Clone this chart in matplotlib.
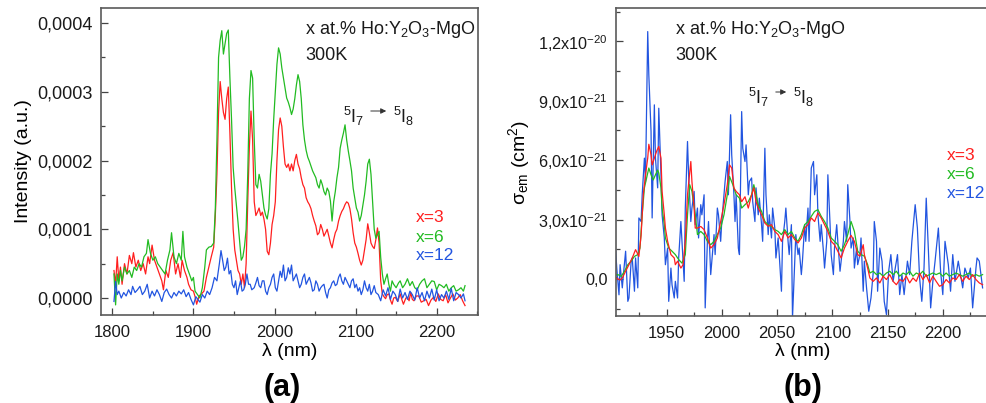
import numpy as np
import matplotlib
matplotlib.use("Agg")
import matplotlib.pyplot as plt
from matplotlib.patches import FancyArrowPatch
from matplotlib.ticker import FuncFormatter, MultipleLocator, FixedLocator

plt.rcParams['font.family'] = ['Liberation Sans', 'DejaVu Sans']
plt.rcParams['mathtext.fontset'] = 'custom'
plt.rcParams['mathtext.rm'] = 'Liberation Sans'
plt.rcParams['mathtext.it'] = 'Liberation Sans:italic'
plt.rcParams['mathtext.bf'] = 'Liberation Sans:bold'

# ---- panel (a): intensity, units of 1e-4 a.u. ----
a_x3 = [
    (1802, 0.40), (1804, 0.20), (1806, 0.60), (1808, 0.25), (1810, 0.45), (1812, 0.20),
    (1815, 0.50), (1818, 0.35), (1821, 0.62), (1824, 0.50), (1826, 0.66), (1829, 0.45),
    (1832, 0.55), (1835, 0.40), (1838, 0.50), (1841, 0.35), (1844, 0.60), (1846, 0.50),
    (1849, 0.77), (1852, 0.55), (1855, 0.45), (1858, 0.35), (1861, 0.25), (1863, 0.12),
    (1866, 0.40), (1869, 0.30), (1872, 0.55), (1875, 0.66), (1878, 0.35), (1881, 0.50),
    (1884, 0.30), (1886, 0.55), (1889, 0.40), (1892, 0.30), (1894, 0.20), (1897, 0.12),
    (1900, 0.10), (1902, 0.02), (1904, -0.09), (1907, 0.03), (1910, 0.06), (1913, 0.10),
    (1916, 0.30), (1919, 0.45), (1922, 0.60), (1925, 0.74), (1927, 1.20), (1929, 1.80),
    (1931, 2.70), (1933, 3.15), (1935, 2.90), (1937, 2.70), (1939, 2.60), (1941, 2.90),
    (1943, 3.07), (1945, 2.40), (1947, 1.60), (1949, 1.00), (1951, 0.70), (1953, 0.55),
    (1955, 0.40), (1957, 0.35), (1959, 0.20), (1961, 0.35), (1963, 0.15), (1965, 0.50),
    (1967, 1.40), (1969, 2.20), (1971, 2.72), (1973, 2.30), (1975, 1.40), (1977, 1.20),
    (1979, 1.25), (1981, 1.31), (1983, 1.20), (1985, 1.25), (1987, 1.15), (1989, 1.00),
    (1991, 0.68), (1993, 0.63), (1995, 0.80), (1997, 1.07), (1999, 1.20), (2001, 1.40),
    (2003, 2.00), (2005, 2.45), (2007, 2.62), (2009, 2.50), (2011, 2.20), (2013, 1.95),
    (2015, 1.90), (2017, 1.95), (2019, 1.85), (2021, 1.95), (2023, 1.85), (2025, 2.00),
    (2027, 2.09), (2029, 1.95), (2031, 1.88), (2033, 1.75), (2035, 1.65), (2037, 1.60),
    (2039, 1.46), (2041, 1.40), (2043, 1.36), (2045, 1.30), (2047, 1.20), (2049, 1.12),
    (2051, 1.05), (2053, 0.92), (2055, 0.95), (2057, 1.07), (2059, 1.00), (2061, 0.90),
    (2063, 0.95), (2065, 1.00), (2067, 0.90), (2069, 0.80), (2071, 0.73), (2073, 0.85),
    (2075, 0.95), (2077, 1.00), (2079, 1.12), (2081, 1.20), (2083, 1.26), (2085, 1.30),
    (2087, 1.36), (2089, 1.40), (2091, 1.38), (2093, 1.30), (2095, 1.15), (2097, 0.95),
    (2099, 0.80), (2101, 0.74), (2103, 0.65), (2105, 0.55), (2107, 0.48), (2109, 0.55),
    (2111, 0.70), (2113, 0.85), (2115, 1.08), (2117, 0.95), (2119, 0.80), (2121, 0.75),
    (2123, 0.72), (2125, 0.85), (2127, 1.02), (2129, 0.80), (2131, 0.25), (2133, 0.06),
    (2135, 0.02), (2137, -0.01), (2139, 0.05), (2141, 0.06), (2143, -0.03), (2145, -0.09),
    (2147, 0.00), (2149, 0.01), (2152, -0.05), (2155, 0.06), (2157, -0.02), (2159, -0.09),
    (2162, 0.00), (2164, 0.01), (2166, -0.04), (2168, 0.08), (2170, -0.02), (2172, -0.04),
    (2175, 0.03), (2178, 0.03), (2181, -0.06), (2184, -0.04), (2187, -0.02), (2190, -0.11),
    (2193, -0.03), (2196, 0.01), (2199, -0.05), (2202, 0.06), (2205, -0.02), (2208, -0.04),
    (2211, 0.05), (2214, -0.07), (2217, 0.00), (2220, 0.06), (2223, -0.03), (2226, 0.00),
    (2229, 0.05), (2232, -0.04), (2235, -0.11),
]

a_x6 = [
    (1802, 0.35), (1804, -0.10), (1806, 0.35), (1808, 0.20), (1810, 0.40), (1812, 0.25),
    (1815, 0.45), (1818, 0.35), (1821, 0.40), (1824, 0.30), (1827, 0.45), (1830, 0.40),
    (1833, 0.50), (1836, 0.45), (1839, 0.60), (1842, 0.65), (1844, 0.85), (1847, 0.65),
    (1850, 0.55), (1853, 0.60), (1856, 0.50), (1859, 0.45), (1862, 0.40), (1865, 0.35),
    (1868, 0.55), (1871, 0.70), (1873, 0.95), (1876, 0.60), (1879, 0.50), (1882, 0.65),
    (1885, 0.55), (1887, 0.97), (1889, 0.60), (1892, 0.45), (1895, 0.35), (1898, 0.25),
    (1900, 0.30), (1902, 0.10), (1905, 0.05), (1908, 0.00), (1911, 0.15), (1914, 0.45),
    (1916, 0.70), (1919, 0.74), (1922, 0.75), (1925, 0.80), (1927, 1.30), (1929, 2.30),
    (1931, 3.50), (1933, 3.75), (1935, 3.89), (1937, 3.55), (1939, 3.70), (1941, 3.85),
    (1943, 3.90), (1945, 3.20), (1947, 2.60), (1949, 1.90), (1951, 1.60), (1953, 1.35),
    (1955, 1.10), (1957, 0.83), (1959, 0.55), (1961, 0.60), (1963, 0.75), (1965, 1.00),
    (1967, 1.80), (1969, 2.90), (1971, 3.31), (1973, 3.20), (1975, 2.30), (1977, 1.65),
    (1979, 1.60), (1981, 1.80), (1983, 1.70), (1985, 1.50), (1987, 1.31), (1989, 1.21),
    (1991, 1.15), (1993, 1.30), (1995, 1.80), (1997, 2.10), (1999, 2.60), (2001, 3.00),
    (2003, 3.40), (2005, 3.64), (2007, 3.55), (2009, 3.35), (2011, 3.20), (2013, 3.05),
    (2015, 2.91), (2017, 2.85), (2019, 2.77), (2021, 2.67), (2023, 2.75), (2025, 2.90),
    (2027, 3.10), (2029, 3.25), (2031, 3.15), (2033, 2.90), (2035, 2.52), (2037, 2.30),
    (2039, 2.15), (2041, 2.05), (2043, 1.99), (2045, 1.92), (2047, 1.85), (2049, 1.80),
    (2051, 1.75), (2053, 1.65), (2055, 1.60), (2057, 1.72), (2059, 1.65), (2061, 1.55),
    (2063, 1.50), (2065, 1.60), (2067, 1.55), (2069, 1.41), (2071, 1.12), (2073, 1.40),
    (2075, 1.55), (2077, 1.75), (2079, 1.90), (2081, 2.18), (2083, 2.30), (2085, 2.40),
    (2087, 2.52), (2089, 2.30), (2091, 2.14), (2093, 2.00), (2095, 1.85), (2097, 1.60),
    (2099, 1.45), (2101, 1.31), (2103, 1.25), (2105, 1.12), (2107, 1.20), (2109, 1.35),
    (2111, 1.50), (2113, 1.70), (2115, 1.95), (2117, 2.02), (2119, 1.80), (2121, 1.41),
    (2123, 1.00), (2125, 0.87), (2127, 0.92), (2129, 0.97), (2131, 0.59), (2133, 0.35),
    (2135, 0.20), (2137, 0.28), (2139, 0.35), (2141, 0.20), (2143, 0.10), (2145, 0.25),
    (2147, 0.20), (2150, 0.15), (2153, 0.22), (2155, 0.25), (2158, 0.15), (2161, 0.20),
    (2164, 0.28), (2167, 0.18), (2170, 0.24), (2173, 0.15), (2176, 0.12), (2179, 0.20),
    (2182, 0.25), (2185, 0.28), (2188, 0.15), (2191, 0.20), (2194, 0.25), (2197, 0.24),
    (2200, 0.12), (2203, 0.20), (2206, 0.18), (2209, 0.15), (2212, 0.20), (2215, 0.10),
    (2218, 0.15), (2221, 0.18), (2224, 0.10), (2227, 0.12), (2230, 0.15), (2233, 0.10),
    (2235, 0.18),
]

a_x12 = [
    (1802, -0.05), (1804, 0.24), (1806, 0.05), (1808, 0.10), (1811, 0.00), (1814, 0.08),
    (1817, 0.03), (1820, 0.12), (1823, 0.05), (1825, 0.17), (1828, 0.08), (1831, 0.12),
    (1834, 0.17), (1837, 0.05), (1840, 0.10), (1843, 0.20), (1846, 0.00), (1849, 0.10),
    (1852, 0.03), (1855, 0.12), (1858, 0.05), (1861, -0.05), (1864, 0.08), (1867, 0.13),
    (1870, 0.05), (1873, 0.00), (1876, 0.08), (1879, 0.03), (1882, 0.10), (1885, 0.06),
    (1888, 0.12), (1891, 0.02), (1894, 0.08), (1897, -0.02), (1900, -0.10), (1903, 0.02),
    (1906, -0.03), (1908, -0.06), (1911, 0.05), (1914, 0.00), (1917, 0.10), (1920, 0.05),
    (1923, 0.15), (1926, 0.30), (1929, 0.25), (1932, 0.50), (1934, 0.69), (1936, 0.55),
    (1938, 0.40), (1940, 0.45), (1942, 0.58), (1944, 0.35), (1946, 0.40), (1948, 0.20),
    (1950, 0.15), (1952, 0.25), (1954, 0.05), (1956, 0.15), (1958, 0.25), (1960, 0.10),
    (1962, 0.12), (1964, 0.20), (1966, 0.35), (1968, 0.20), (1970, 0.20), (1972, 0.12),
    (1975, 0.15), (1977, 0.22), (1979, 0.30), (1981, 0.18), (1983, 0.15), (1985, 0.25),
    (1987, 0.25), (1989, 0.10), (1991, 0.05), (1993, 0.15), (1995, 0.20), (1997, 0.30),
    (1999, 0.35), (2001, 0.15), (2003, 0.10), (2005, 0.25), (2007, 0.39), (2009, 0.30),
    (2011, 0.48), (2013, 0.25), (2015, 0.30), (2017, 0.44), (2019, 0.35), (2021, 0.48),
    (2023, 0.25), (2025, 0.30), (2027, 0.35), (2029, 0.25), (2031, 0.15), (2033, 0.20),
    (2035, 0.30), (2037, 0.35), (2039, 0.20), (2041, 0.25), (2043, 0.30), (2045, 0.22),
    (2047, 0.10), (2049, 0.12), (2051, 0.25), (2053, 0.20), (2055, 0.10), (2057, 0.15),
    (2059, 0.18), (2061, 0.20), (2063, 0.08), (2065, 0.00), (2067, 0.12), (2069, 0.15),
    (2071, 0.22), (2073, 0.25), (2075, 0.18), (2077, 0.20), (2079, 0.30), (2081, 0.35),
    (2083, 0.25), (2085, 0.20), (2087, 0.30), (2089, 0.25), (2091, 0.20), (2093, 0.15),
    (2095, 0.25), (2097, 0.28), (2099, 0.15), (2101, 0.20), (2103, 0.10), (2105, 0.15),
    (2107, 0.05), (2109, 0.12), (2111, 0.25), (2113, 0.15), (2115, 0.10), (2117, 0.20),
    (2119, 0.05), (2121, 0.10), (2123, 0.18), (2125, 0.08), (2128, 0.05), (2131, -0.04),
    (2134, 0.12), (2137, 0.03), (2140, 0.15), (2143, -0.02), (2146, 0.10), (2149, 0.05),
    (2152, -0.05), (2155, 0.13), (2158, 0.00), (2161, 0.08), (2164, -0.02), (2167, 0.10),
    (2170, 0.05), (2173, -0.03), (2176, 0.15), (2179, 0.00), (2182, 0.08), (2185, -0.04),
    (2188, 0.10), (2191, 0.00), (2194, 0.13), (2197, -0.03), (2200, 0.12), (2203, -0.04),
    (2206, 0.05), (2209, 0.00), (2212, 0.10), (2215, -0.02), (2218, 0.14), (2221, -0.04),
    (2224, 0.08), (2227, 0.05), (2230, 0.00), (2233, 0.06), (2235, -0.04),
]

# ---- panel (b): emission cross-section, units of 1e-21 cm^2 ----
b_x3 = [
    (1904, 0.10), (1906, 0.00), (1908, -0.05), (1910, 0.05), (1913, 0.39), (1916, 0.72),
    (1919, 1.06), (1922, 1.48), (1925, 1.14), (1927, 2.20), (1929, 4.25), (1931, 5.26),
    (1933, 6.10), (1934, 6.80), (1936, 6.27), (1937, 5.76), (1939, 6.10), (1941, 6.44),
    (1943, 6.69), (1945, 6.10), (1946, 4.42), (1948, 3.24), (1949, 2.57), (1951, 1.90),
    (1954, 1.23), (1957, 1.06), (1958, 0.72), (1960, 0.90), (1963, 0.55), (1965, 0.72),
    (1967, 1.90), (1969, 4.25), (1972, 5.93), (1973, 4.92), (1975, 3.58), (1976, 2.57),
    (1978, 2.57), (1981, 2.65), (1984, 2.49), (1987, 2.07), (1990, 1.56), (1993, 1.73),
    (1996, 2.07), (1999, 2.90), (2002, 3.75), (2005, 4.76), (2007, 5.76), (2009, 5.60),
    (2011, 4.59), (2013, 4.42), (2016, 4.25), (2018, 3.90), (2021, 4.15), (2024, 3.58),
    (2027, 4.25), (2029, 4.60), (2031, 3.90), (2033, 3.58), (2036, 3.24), (2039, 2.82),
    (2042, 2.66), (2045, 2.74), (2048, 2.40), (2051, 2.24), (2054, 1.90), (2057, 2.40),
    (2060, 2.07), (2063, 2.24), (2066, 1.99), (2069, 1.82), (2072, 2.07), (2075, 2.57),
    (2078, 2.74), (2081, 3.08), (2084, 2.90), (2087, 3.33), (2090, 3.08), (2093, 2.74),
    (2096, 2.40), (2099, 1.90), (2102, 1.73), (2105, 1.40), (2108, 1.06), (2111, 1.56),
    (2114, 1.90), (2117, 2.20), (2120, 1.90), (2123, 1.23), (2125, 1.15), (2128, 1.73),
    (2129, 1.23), (2132, 0.55), (2134, 0.05), (2137, -0.12), (2140, 0.05), (2143, -0.20),
    (2146, 0.14), (2149, -0.03), (2152, 0.22), (2155, -0.12), (2158, -0.29), (2161, -0.03),
    (2164, -0.12), (2167, 0.14), (2170, -0.20), (2173, 0.05), (2176, -0.12), (2179, 0.30),
    (2182, -0.03), (2185, 0.22), (2188, -0.20), (2191, 0.14), (2194, -0.12), (2197, -0.37),
    (2200, -0.29), (2203, -0.03), (2206, -0.20), (2209, 0.05), (2212, -0.03), (2215, 0.22),
    (2218, -0.12), (2221, 0.14), (2224, -0.03), (2227, 0.22), (2230, -0.03), (2233, -0.20),
    (2236, -0.29),
]

b_x6 = [
    (1904, 0.20), (1906, 0.22), (1909, 0.13), (1912, 0.39), (1915, 0.72), (1918, 0.90),
    (1921, 1.14), (1924, 1.23), (1926, 1.56), (1928, 3.24), (1930, 4.60), (1932, 5.10),
    (1934, 5.60), (1936, 5.26), (1938, 5.00), (1940, 5.26), (1942, 5.50), (1943, 5.35),
    (1945, 4.60), (1946, 3.58), (1948, 2.74), (1949, 2.07), (1952, 1.56), (1955, 1.40),
    (1958, 1.23), (1961, 0.98), (1964, 0.80), (1967, 1.23), (1969, 3.24), (1971, 4.76),
    (1973, 4.42), (1976, 3.24), (1978, 2.24), (1981, 2.40), (1984, 2.24), (1987, 1.90),
    (1990, 1.73), (1993, 1.90), (1996, 2.24), (1999, 2.57), (2002, 3.24), (2005, 4.25),
    (2007, 5.18), (2010, 4.76), (2013, 4.25), (2016, 4.08), (2018, 3.58), (2021, 3.75),
    (2024, 3.90), (2027, 4.25), (2029, 4.76), (2031, 4.25), (2033, 3.75), (2036, 3.41),
    (2039, 2.90), (2042, 2.74), (2045, 2.65), (2048, 2.49), (2051, 2.40), (2054, 2.24),
    (2057, 2.49), (2060, 2.24), (2063, 2.40), (2066, 2.07), (2069, 1.90), (2072, 2.24),
    (2075, 2.74), (2078, 2.90), (2081, 3.16), (2084, 3.41), (2087, 3.50), (2090, 3.16),
    (2093, 2.90), (2096, 2.57), (2099, 2.07), (2102, 1.90), (2105, 1.73), (2108, 1.40),
    (2111, 1.73), (2114, 2.24), (2117, 2.90), (2120, 2.40), (2123, 1.40), (2126, 1.23),
    (2129, 1.15), (2132, 0.72), (2134, 0.30), (2137, 0.39), (2140, 0.22), (2143, 0.30),
    (2146, 0.14), (2149, 0.30), (2152, 0.39), (2155, 0.22), (2158, 0.39), (2161, 0.14),
    (2164, 0.30), (2167, 0.22), (2170, 0.39), (2173, 0.14), (2176, 0.30), (2179, 0.22),
    (2182, 0.39), (2185, 0.14), (2188, 0.22), (2191, 0.30), (2194, 0.22), (2197, 0.30),
    (2200, 0.14), (2203, 0.30), (2206, 0.14), (2209, 0.22), (2212, 0.30), (2215, 0.22),
    (2218, 0.14), (2221, 0.22), (2224, 0.30), (2227, 0.14), (2230, 0.22), (2233, 0.14),
    (2236, 0.22),
]

b_x12 = [
    (1904, 1.40), (1905, 0.55), (1907, -0.80), (1908, 0.72), (1910, -0.45), (1911, 0.22),
    (1913, 1.40), (1915, -1.13), (1916, -0.96), (1918, 0.90), (1919, 1.06), (1921, -0.62),
    (1922, 1.06), (1924, -0.45), (1925, 3.08), (1927, 2.90), (1928, 4.25), (1930, 6.10),
    (1931, 4.92), (1933, 12.49), (1934, 10.30), (1936, 7.45), (1937, 3.08), (1939, 8.79),
    (1940, 6.10), (1942, 4.60), (1943, 8.62), (1945, 5.26), (1946, 3.24), (1948, 2.07),
    (1949, 0.72), (1951, 1.56), (1952, -1.13), (1954, 0.55), (1955, -0.30), (1957, -0.96),
    (1958, -0.12), (1960, -0.96), (1961, 1.06), (1963, 2.90), (1964, 1.90), (1966, -0.12),
    (1967, 3.58), (1969, 6.94), (1970, 5.26), (1972, 2.90), (1973, 3.58), (1975, 4.42),
    (1976, 2.74), (1978, 3.58), (1979, 2.07), (1981, 3.75), (1982, 3.24), (1984, 4.25),
    (1985, -1.46), (1987, 1.90), (1988, 2.90), (1990, 0.22), (1991, 0.90), (1993, 2.24),
    (1994, 1.23), (1996, 3.58), (1997, 3.24), (1999, 1.90), (2000, 2.90), (2002, 4.25),
    (2003, 4.92), (2005, 5.93), (2006, 4.25), (2008, 8.29), (2009, 6.27), (2011, 4.25),
    (2012, 2.90), (2013, 4.25), (2015, 1.56), (2016, 1.23), (2018, 8.45), (2019, 6.60),
    (2021, 5.93), (2022, 6.77), (2024, 4.25), (2025, 4.92), (2027, 5.10), (2028, 3.90),
    (2030, 2.90), (2031, 4.60), (2033, 3.24), (2034, 4.08), (2036, 2.74), (2037, 1.90),
    (2039, 6.60), (2040, 4.25), (2042, 2.24), (2043, 3.24), (2045, 2.07), (2046, 3.58),
    (2048, 2.57), (2049, 1.06), (2051, 2.07), (2052, 1.23), (2054, -0.62), (2055, 1.90),
    (2057, 2.90), (2058, 3.58), (2060, 1.90), (2061, 1.23), (2063, 2.74), (2064, -1.97),
    (2066, 0.90), (2067, 2.24), (2069, 1.23), (2070, 1.56), (2072, 0.22), (2073, 0.90),
    (2075, 2.74), (2076, 1.90), (2078, 3.58), (2079, 1.90), (2081, 5.60), (2083, 5.93),
    (2084, 4.25), (2086, 5.26), (2087, 3.24), (2089, 1.90), (2090, 2.74), (2092, 1.40),
    (2093, 0.55), (2095, 1.90), (2096, 5.26), (2098, 2.74), (2099, 1.23), (2101, 0.22),
    (2102, 1.56), (2104, 2.74), (2105, 1.90), (2107, 0.39), (2108, 0.90), (2110, 1.90),
    (2111, 2.90), (2113, 1.90), (2114, 4.76), (2116, 2.90), (2117, 1.56), (2119, 2.07),
    (2120, 0.55), (2122, 1.56), (2123, 0.72), (2125, 1.23), (2126, 2.07), (2128, -0.62),
    (2129, 0.90), (2131, -0.45), (2133, -1.63), (2135, -0.96), (2137, 0.30), (2138, 2.90),
    (2140, 1.90), (2141, -0.62), (2143, 1.56), (2145, 0.90), (2147, -1.13), (2149, -1.80),
    (2151, 0.39), (2153, 1.23), (2155, -0.12), (2157, 0.55), (2159, 1.23), (2161, -0.79),
    (2163, 0.22), (2165, -0.79), (2168, 0.90), (2170, 0.22), (2172, 1.90), (2175, 3.75),
    (2177, 2.57), (2179, 0.05), (2181, -1.13), (2183, 0.55), (2185, 4.08), (2187, 1.40),
    (2189, -1.46), (2191, -0.12), (2193, 0.90), (2196, 2.57), (2198, 0.39), (2200, -0.79),
    (2202, 1.90), (2205, 0.72), (2207, -0.62), (2209, 1.23), (2211, -0.12), (2214, 0.90),
    (2216, 0.22), (2218, -0.45), (2220, 0.55), (2223, 0.05), (2225, 0.55), (2227, -1.46),
    (2230, 0.55), (2231, 1.06), (2233, 0.90), (2236, -0.45),
]

labels = ["x=3", "x=6", "x=12"]
colors = ["#ff1f1f", "#22bb22", "#2255e0"]
a_yticks = [0.0, 0.0001, 0.0002, 0.0003, 0.0004]
b_yticks = [0.0, 3e-21, 6e-21, 9e-21, 1.2e-20]

W, H = 987, 403
fig = plt.figure(figsize=(W / 100, H / 100), dpi=100)


def px(x, y):
    # figure pixel (from top-left) -> figure fraction
    return x / W, 1 - y / H


def style_axes(ax, ysize):
    for s in ax.spines.values():
        s.set_color("#5a5a5a")
        s.set_linewidth(1.2)
    ax.tick_params(which="both", direction="in", color="#444444",
                   labelcolor="#1a1a1a", width=0.9)
    ax.tick_params(which="major", length=5)
    ax.tick_params(which="minor", length=3)
    ax.tick_params(axis="x", pad=7, labelsize=12)
    ax.tick_params(axis="y", pad=6, labelsize=ysize)


# ---------------- (a) ----------------
ax1 = fig.add_axes([101 / W, 1 - 315 / H, (478 - 101) / W, (315 - 8) / H])
for ser, c in zip([a_x3, a_x6, a_x12], colors):
    d = np.array(ser)
    ax1.plot(d[:, 0], d[:, 1] * 1e-4, color=c, lw=0.9)
ax1.set_xlim(1786, 2251)
ax1.set_ylim(-0.0000247, 0.000422)
ax1.xaxis.set_major_locator(MultipleLocator(100))
ax1.xaxis.set_minor_locator(MultipleLocator(50))
ax1.yaxis.set_major_locator(FixedLocator(a_yticks))
ax1.yaxis.set_minor_locator(MultipleLocator(0.00005))
ax1.yaxis.set_major_formatter(FuncFormatter(lambda v, p: f"{abs(v):.4f}".replace(".", ",")))
style_axes(ax1, 13)
ax1.set_xlabel("λ (nm)", fontsize=14, labelpad=2)
ax1.set_ylabel("Intensity (a.u.)", fontsize=14, labelpad=4)


# ---------------- (b) ----------------
def sci_fmt(v, p):
    if abs(v) < 1e-30:
        return "0,0"
    e = int(np.floor(np.log10(abs(v)) + 1e-9))
    m = v / 10 ** e
    return f"{m:.1f}".replace(".", ",") + "x10$^{" + f"{e}" + "}$"


ax2 = fig.add_axes([616 / W, 1 - 316 / H, (989 - 616) / W, (316 - 8) / H])
for ser, c in zip([b_x12, b_x6, b_x3], [colors[2], colors[1], colors[0]]):
    d = np.array(ser)
    ax2.plot(d[:, 0], d[:, 1] * 1e-21, color=c, lw=0.9)
ax2.set_xlim(1904.3, 2241.8)
ax2.set_ylim(-1.87e-21, 13.68e-21)
ax2.xaxis.set_major_locator(MultipleLocator(50))
ax2.xaxis.set_minor_locator(MultipleLocator(25))
ax2.yaxis.set_major_locator(FixedLocator(b_yticks))
ax2.yaxis.set_minor_locator(MultipleLocator(1.5e-21))
ax2.yaxis.set_major_formatter(FuncFormatter(sci_fmt))
style_axes(ax2, 11.7)
ax2.set_xlabel("λ (nm)", fontsize=14, labelpad=2)
ax2.set_ylabel("σ$_{\\rm em}$ (cm$^2$)", fontsize=14, labelpad=4)

# ---------------- annotations ----------------
title_txt = r"x at.% Ho:Y$_2$O$_3$-MgO"
for x0 in (305, 675):
    fig.text(*px(x0, 30), title_txt, fontsize=13, va="center", ha="left", color="#1a1a1a")
    fig.text(*px(x0, 55), "300K", fontsize=13, va="center", ha="left", color="#1a1a1a")

for (xa, xb, y) in [(343, 393, 116), (748, 793, 97)]:
    fig.text(*px(xa, y), r"$^5$I$_7$", fontsize=13, va="center", ha="left", color="#1a1a1a")
    fig.text(*px(xb, y), r"$^5$I$_8$", fontsize=13, va="center", ha="left", color="#1a1a1a")
    fig.add_artist(FancyArrowPatch(
        px(xa + 25, y - 5), px(xb - 4, y - 5), transform=fig.transFigure,
        arrowstyle="-|>", mutation_scale=8, color="#333333", lw=0.7))

for (x0, ys) in [(416, (217, 237, 255)), (947, (155, 174, 193))]:
    for lab, c, y in zip(labels, colors, ys):
        fig.text(*px(x0, y), lab, fontsize=12.5, va="center", ha="left", color=c)

fig.text(*px(282, 388), "(a)", fontsize=22, fontweight="bold", ha="center", va="center")
fig.text(*px(803, 388), "(b)", fontsize=22, fontweight="bold", ha="center", va="center")

fig.savefig("out.png", dpi=100)
